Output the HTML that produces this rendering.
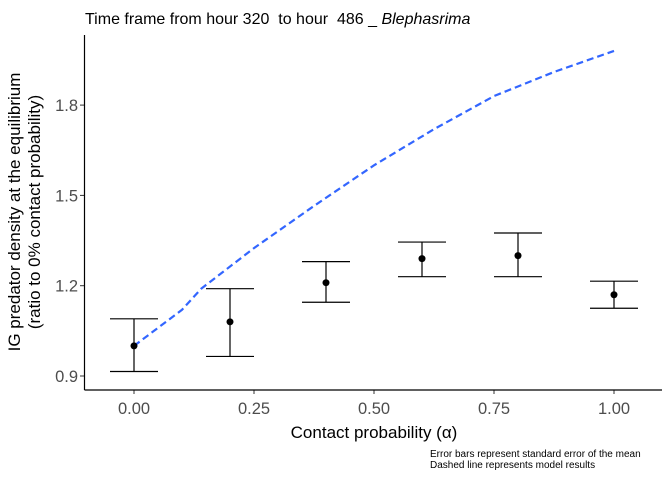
<!DOCTYPE html>
<html><head><meta charset="utf-8"><style>
body{margin:0;background:#fff}
svg text{font-family:"Liberation Sans",sans-serif;white-space:pre}
</style></head><body>
<svg width="672" height="480" viewBox="0 0 672 480">
<rect width="672" height="480" fill="#fff"/>
<text x="85" y="24" font-size="16" fill="#000" xml:space="preserve">Time frame from hour 320  to hour  486 _ <tspan font-style="italic">Blephasrima</tspan></text>
<g id="plot"></g>
<line x1="84.5" y1="35" x2="84.5" y2="390" stroke="#000" stroke-width="1.2"/>
<line x1="84.5" y1="390" x2="662" y2="390" stroke="#000" stroke-width="1.2"/>
<text transform="translate(20,212) rotate(-90)" text-anchor="middle" font-size="17">IG predator density at the equilibrium</text>
<text transform="translate(40,212) rotate(-90)" text-anchor="middle" font-size="17">(ratio to 0% contact probability)</text>
<text x="374" y="438" text-anchor="middle" font-size="17">Contact probability (α)</text>
<text x="430" y="457" font-size="10">Error bars represent standard error of the mean</text>
<text x="430" y="468" font-size="10">Dashed line represents model results</text>
</svg>
<script>
const xCats=[0,0.2,0.4,0.6,0.8,1.0];
const means=[1.0,1.08,1.21,1.29,1.30,1.17];
const lows=[0.915,0.965,1.145,1.23,1.23,1.125];
const highs=[1.09,1.19,1.28,1.345,1.375,1.215];
const modelX=[0,0.05,0.1,0.14,0.25,0.375,0.5,0.625,0.75,0.875,1.0];
const modelY=[1.0,1.06,1.12,1.19,1.325,1.465,1.60,1.72,1.83,1.91,1.98];
const xTicks=[0,0.25,0.5,0.75,1.0];
const xTickLabels=["0.00","0.25","0.50","0.75","1.00"];
const yTicks=[0.9,1.2,1.5,1.8];
const yTickLabels=["0.9","1.2","1.5","1.8"];
const sx=v=>134+v*480;
const sy=v=>376-(v-0.9)*301;
const NS="http://www.w3.org/2000/svg";
const g=document.getElementById('plot');
function mk(t,a){const e=document.createElementNS(NS,t);for(const k in a)e.setAttribute(k,a[k]);g.appendChild(e);return e;}
xTicks.forEach((v,i)=>{
 const t=mk('line',{x1:sx(v),x2:sx(v),y1:390,y2:394,stroke:'#333'});
 
 
 const l=mk('text',{x:sx(v),y:414,'text-anchor':'middle','font-size':16.5,fill:'#4d4d4d'});
 l.textContent=xTickLabels[i];
 
 
});
yTicks.forEach((v,i)=>{
 const t=mk('line',{x1:80,x2:84.5,y1:sy(v),y2:sy(v),stroke:'#333'});
 
 
 const l=mk('text',{x:78,y:sy(v)+6,'text-anchor':'end','font-size':16.5,fill:'#4d4d4d'});
 l.textContent=yTickLabels[i];
 
 
});
const d=modelX.map((v,i)=>(i?'L':'M')+sx(v)+','+sy(modelY[i])).join(' ');
const p=mk('path',{d:d,fill:'none',stroke:'#3366ff','stroke-width':2.2,'stroke-dasharray':'7,4'});


xCats.forEach((v,i)=>{
 const x=sx(v),w=24;
 const e=mk('path',{d:`M${x-w},${sy(highs[i])}H${x+w}M${x},${sy(highs[i])}V${sy(lows[i])}M${x-w},${sy(lows[i])}H${x+w}`,stroke:'#000','stroke-width':1.2,fill:'none'});
 
 
 const c=mk('circle',{cx:x,cy:sy(means[i]),r:3.5,fill:'#000'});
 
 
});
</script>
</body></html>
